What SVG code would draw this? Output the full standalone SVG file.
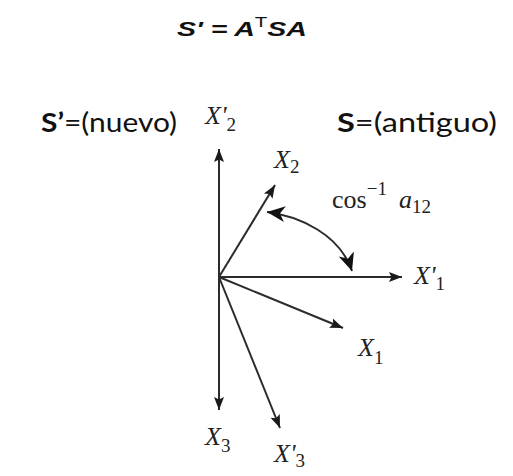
<svg xmlns="http://www.w3.org/2000/svg" width="513" height="476" viewBox="0 0 513 476">
<defs>
<style>
.ax{stroke:#2b2b2b;stroke-width:2;fill:none}
.calib{font-family:Lato,"Open Sans","Liberation Sans",sans-serif;font-size:26px;fill:#111}
.math{font-family:"Liberation Serif","Times New Roman",serif;font-style:italic;font-size:26px;fill:#222}
.sub{font-style:normal;font-size:19px}
.title{font-family:"Liberation Sans",Arial,sans-serif;font-weight:bold;font-style:italic;font-size:21px;fill:#111}
</style>
<marker id="ah" markerUnits="userSpaceOnUse" markerWidth="16" markerHeight="12" viewBox="0 -6 16 12" refX="13" refY="0" orient="auto">
<path d="M0,-5 L13,0 L0,5 L2.5,0 Z" fill="#1a1a1a"/>
</marker>
<marker id="big" markerUnits="userSpaceOnUse" markerWidth="20" markerHeight="18" viewBox="0 -9 20 18" refX="18" refY="0" orient="auto-start-reverse">
<path d="M0,-8 L18,0 L0,8 L5,0 Z" fill="#111"/>
</marker>
</defs>
<rect width="513" height="476" fill="#fff"/>

<g id="title">
<text class="title" x="177" y="36" textLength="130" lengthAdjust="spacingAndGlyphs">S' = A<tspan font-style="normal" font-weight="normal" font-size="15" dy="-9">T</tspan><tspan dy="9">SA</tspan></text>
</g>

<g id="connectors">
<line class="ax" x1="219" y1="277" x2="219" y2="149" marker-end="url(#ah)"/>
<line class="ax" x1="219" y1="277" x2="275" y2="185" marker-end="url(#ah)"/>
<line class="ax" x1="219" y1="277" x2="402" y2="277" marker-end="url(#ah)"/>
<line class="ax" x1="219" y1="277" x2="343" y2="328" marker-end="url(#ah)"/>
<line class="ax" x1="219" y1="277" x2="219" y2="410" marker-end="url(#ah)"/>
<line class="ax" x1="219" y1="277" x2="280" y2="428" marker-end="url(#ah)"/>
<path class="ax" d="M267,212 C300,216 340,235 352,271" marker-start="url(#big)" marker-end="url(#big)"/>
</g>

<g id="new-system">
<text class="calib" x="41" y="132" textLength="136" lengthAdjust="spacingAndGlyphs"><tspan font-weight="bold">S’</tspan>=(nuevo)</text>
</g>
<g id="old-system">
<text class="calib" x="337" y="132" textLength="160" lengthAdjust="spacingAndGlyphs"><tspan font-weight="bold">S</tspan>=(antiguo)</text>
</g>

<g id="X2p"><text class="math" x="205" y="124">X'<tspan class="sub" dy="7">2</tspan></text></g>
<g id="X2"><text class="math" x="274" y="168">X<tspan class="sub" dy="5">2</tspan></text></g>
<g id="angle"><text class="math" x="332" y="208"><tspan font-style="normal">cos</tspan><tspan class="sub" dy="-13">−1</tspan><tspan dx="12" dy="13">a</tspan><tspan class="sub" dy="5">12</tspan></text></g>
<g id="X1p"><text class="math" x="414" y="284">X'<tspan class="sub" dy="6">1</tspan></text></g>
<g id="X1"><text class="math" x="358" y="356">X<tspan class="sub" dy="8">1</tspan></text></g>
<g id="X3"><text class="math" x="205" y="445">X<tspan class="sub" dy="7">3</tspan></text></g>
<g id="X3p"><text class="math" x="274" y="462">X'<tspan class="sub" dy="5">3</tspan></text></g>
</svg>
